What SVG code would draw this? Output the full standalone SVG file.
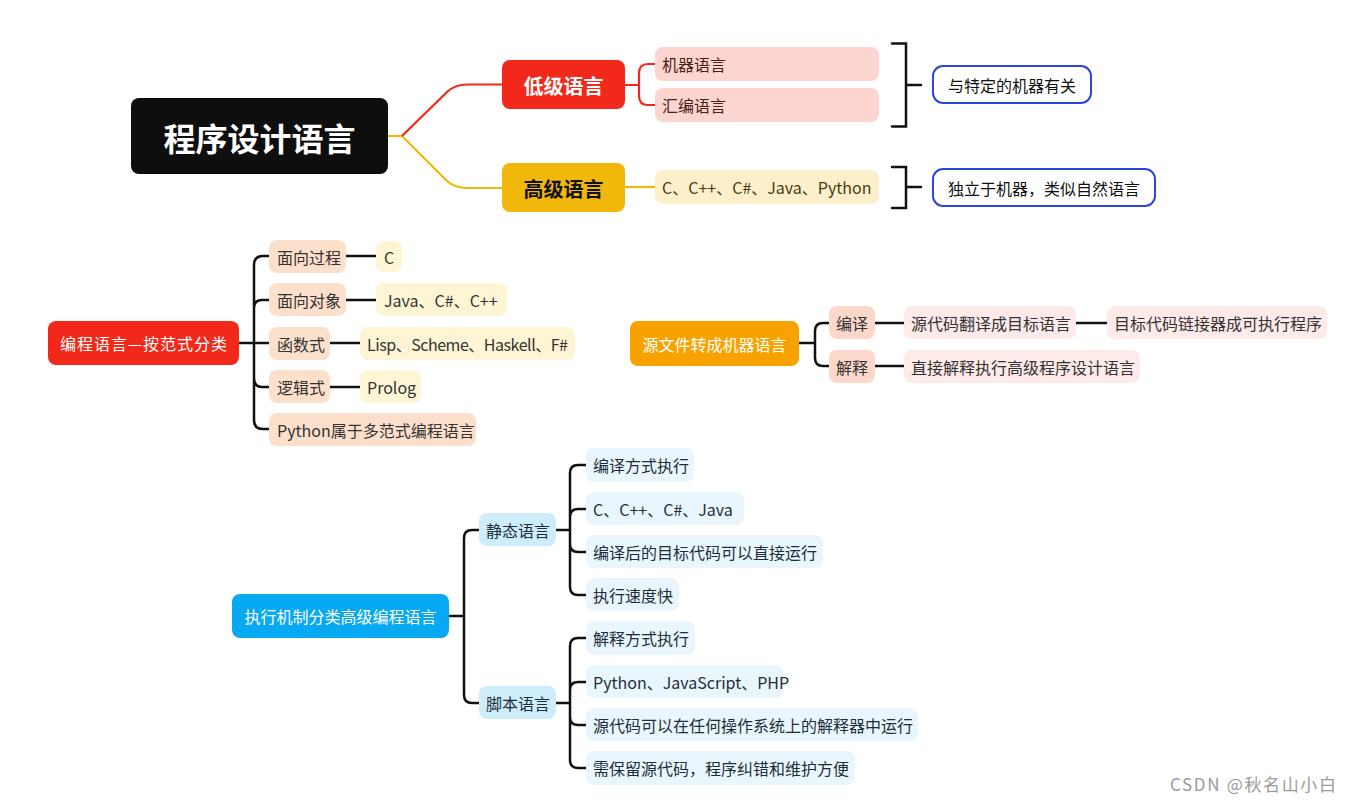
<svg xmlns="http://www.w3.org/2000/svg" width="1352" height="802" viewBox="0 0 1352 802">
<style>
text{font-family:"Noto Sans CJK SC","Noto Sans",sans-serif;font-size:16px;dominant-baseline:central}
.c{text-anchor:middle}
.w{fill:#ffffff}
.b{font-weight:700}
.ln{fill:none;stroke:#111;stroke-width:2.5;stroke-linecap:round}
.lr{fill:none;stroke:#f2281a;stroke-width:2.2}
.ly{fill:none;stroke:#f1b70b;stroke-width:2.2}
.pr{fill:#fcd5d0}.py{fill:#fcf0ca}
.pe{fill:#fde0cb}.pl{fill:#fef5d5}
.po{fill:#fdd8ca}.pp{fill:#fdeae9}
.bs{fill:#cdedfb}.bc{fill:#e9f6fd}
.tr{fill:#4d1f16}.ty{fill:#4a3b12}.td{fill:#333333}.tb{fill:#1f2d3a}
.blue{fill:#ffffff;stroke:#2d46d6;stroke-width:2}
</style>
<g id="connectors">
<path class="ly" d="M388,136 H402 L447,181 Q455,188 467,188 H502"/>
<path class="lr" d="M402,136 L447,92 Q455,84.5 467,84.5 H502"/>
<path class="lr" d="M625,85 H639 M655,64 H648 Q639,64 639,73 V96 Q639,105 648,105 H655"/>
<path class="ly" d="M625,187 H655"/>
<path class="ln" d="M892,43.5 H906 V126.5 H892 M906,85 H921"/>
<path class="ln" d="M892,167 H906 V208 H892 M906,187 H921"/>
<path class="ln" d="M239,343 H254 M269,256 H263 Q254,256 254,265 V420 Q254,429 263,429 H269 M254,308 Q254,300 262,300 H269 M254,343 H269 M254,378 Q254,387 262,387 H269"/>
<path class="ln" d="M346,256 H376 M346,300 H376 M330,343 H360 M330,387 H360"/>
<path class="ln" d="M799,343 H815 M829,323 H823 Q815,323 815,331 V358 Q815,366 823,366 H829 M875,323 H904 M1076,323 H1107 M875,366 H904"/>
<path class="ln" d="M449,616 H464 M479,530 H472 Q464,530 464,538 V695 Q464,703 472,703 H479"/>
<path class="ln" d="M556,530 H570 M586,465 H578 Q570,465 570,473 V587 Q570,595 578,595 H586 M570,517 Q570,509 578,509 H586 M570,544 Q570,552 578,552 H586"/>
<path class="ln" d="M556,703 H570 M586,638 H578 Q570,638 570,646 V760 Q570,768 578,768 H586 M570,690 Q570,682 578,682 H586 M570,717 Q570,725 578,725 H586"/>
</g>
<g id="root"><rect x="131" y="98" width="257" height="76" rx="8" fill="#0e0e0e"/><text class="c w b" x="259.5" y="137" style="font-size:32px">程序设计语言</text></g>
<g id="low"><rect x="502" y="60" width="123" height="49" rx="8" fill="#f2281a"/><text class="c w b" x="563.5" y="85" style="font-size:20px">低级语言</text></g>
<g id="high"><rect x="502" y="163" width="123" height="49" rx="8" fill="#f1b70b"/><text class="c b" x="563.5" y="188" style="font-size:20px;fill:#111">高级语言</text></g>
<g id="machine"><rect class="pr" x="655" y="47" width="224" height="34" rx="8"/><text class="tr" x="662" y="64">机器语言</text></g>
<g id="asm"><rect class="pr" x="655" y="88" width="224" height="34" rx="8"/><text class="tr" x="662" y="105">汇编语言</text></g>
<g id="highlist"><rect class="py" x="655" y="170" width="224" height="34" rx="8"/><text class="ty" x="662" y="187">C、C++、C#、Java、Python</text></g>
<g id="note1"><rect class="blue" x="933" y="66" width="158" height="37" rx="10"/><text class="c" x="1012" y="85" style="fill:#111">与特定的机器有关</text></g>
<g id="note2"><rect class="blue" x="933" y="169" width="222" height="37" rx="10"/><text class="c" x="1044" y="187.5" style="fill:#111">独立于机器，类似自然语言</text></g>

<g id="paradigm"><rect x="48" y="321" width="191" height="44" rx="8" fill="#f2281a"/><text class="w" x="60" y="343" textLength="167">编程语言—按范式分类</text></g>
<g id="proc"><rect class="pe" x="269" y="240" width="77" height="33" rx="8"/><text class="td" x="277" y="256.5">面向过程</text></g>
<g id="procc"><rect class="pl" x="376" y="241" width="26" height="31" rx="8"/><text class="td" x="384" y="256.5">C</text></g>
<g id="oop"><rect class="pe" x="269" y="283" width="77" height="33" rx="8"/><text class="td" x="277" y="299.5">面向对象</text></g>
<g id="oopc"><rect class="pl" x="376" y="283" width="131" height="33" rx="8"/><text class="td" x="384" y="299.5">Java、C#、C++</text></g>
<g id="func"><rect class="pe" x="269" y="327" width="61" height="33" rx="8"/><text class="td" x="277" y="343.5">函数式</text></g>
<g id="funcc"><rect class="pl" x="360" y="327" width="215" height="33" rx="8"/><text class="td" x="367" y="343.5" textLength="201">Lisp、Scheme、Haskell、F#</text></g>
<g id="logic"><rect class="pe" x="269" y="370" width="61" height="33" rx="8"/><text class="td" x="277" y="386.5">逻辑式</text></g>
<g id="logicc"><rect class="pl" x="360" y="370" width="61" height="33" rx="8"/><text class="td" x="367" y="386.5">Prolog</text></g>
<g id="multi"><rect class="pe" x="269" y="413" width="207" height="33" rx="8"/><text class="td" x="277" y="429.5">Python属于多范式编程语言</text></g>

<g id="src"><rect x="630" y="321" width="169" height="45" rx="8" fill="#f8a200"/><text class="c w" x="714.5" y="343.5">源文件转成机器语言</text></g>
<g id="compile"><rect class="po" x="829" y="306" width="46" height="33" rx="8"/><text class="td" x="836" y="322.5">编译</text></g>
<g id="interp"><rect class="po" x="829" y="350" width="46" height="33" rx="8"/><text class="td" x="836" y="366.5">解释</text></g>
<g id="c1"><rect class="pp" x="904" y="306" width="172" height="33" rx="8"/><text class="td" x="911" y="322.5">源代码翻译成目标语言</text></g>
<g id="c2"><rect class="pp" x="1107" y="306" width="220" height="33" rx="8"/><text class="td" x="1114" y="322.5">目标代码链接器成可执行程序</text></g>
<g id="i1"><rect class="pp" x="904" y="350" width="236" height="33" rx="8"/><text class="td" x="911" y="366.5">直接解释执行高级程序设计语言</text></g>

<g id="exec"><rect x="232" y="594" width="217" height="44" rx="8" fill="#07a9f2"/><text class="c w" x="340.5" y="616">执行机制分类高级编程语言</text></g>
<g id="static"><rect class="bs" x="479" y="513" width="77" height="33" rx="8"/><text class="tb" x="486" y="529.5">静态语言</text></g>
<g id="script"><rect class="bs" x="479" y="686" width="77" height="33" rx="8"/><text class="tb" x="486" y="702.5">脚本语言</text></g>
<g id="s1"><rect class="bc" x="586" y="448" width="108" height="34" rx="8"/><text class="tb" x="593" y="465">编译方式执行</text></g>
<g id="s2"><rect class="bc" x="586" y="492" width="158" height="33" rx="8"/><text class="tb" x="593" y="508.5">C、C++、C#、Java</text></g>
<g id="s3"><rect class="bc" x="586" y="535" width="237" height="33" rx="8"/><text class="tb" x="593" y="551.5">编译后的目标代码可以直接运行</text></g>
<g id="s4"><rect class="bc" x="586" y="578" width="93" height="33" rx="8"/><text class="tb" x="593" y="594.5">执行速度快</text></g>
<g id="p1"><rect class="bc" x="586" y="621" width="109" height="34" rx="8"/><text class="tb" x="593" y="638">解释方式执行</text></g>
<g id="p2"><rect class="bc" x="586" y="665" width="197" height="33" rx="8"/><text class="tb" x="593" y="681.5">Python、JavaScript、PHP</text></g>
<g id="p3"><rect class="bc" x="586" y="708" width="332" height="33" rx="8"/><text class="tb" x="593" y="724.5">源代码可以在任何操作系统上的解释器中运行</text></g>
<g id="p4"><rect class="bc" x="586" y="751" width="269" height="34" rx="8"/><text class="tb" x="593" y="768">需保留源代码，程序纠错和维护方便</text></g>

<text x="1170" y="783" textLength="166" style="font-size:17px;fill:#9a9a9a">CSDN @秋名山小白</text>
</svg>
